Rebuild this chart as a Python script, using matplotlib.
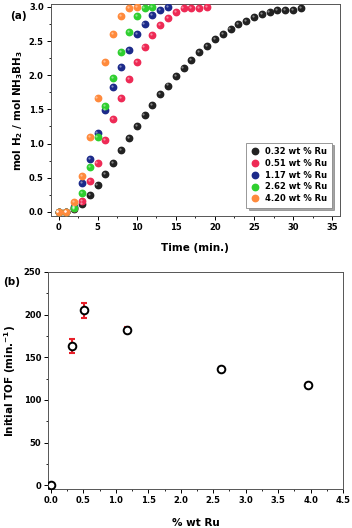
import numpy as np
import matplotlib
matplotlib.use('Agg')
import matplotlib.pyplot as plt
from matplotlib.ticker import MultipleLocator

plt.rcParams['font.family'] = ['DejaVu Sans']
plt.rcParams['font.weight'] = 'bold'
plt.rcParams['axes.labelweight'] = 'bold'

# Panel (a): H2 evolution vs time
time_032 = list(range(0, 32))
h2_032 = [0, 0, 0.04, 0.12, 0.24, 0.39, 0.56, 0.72, 0.91, 1.08, 1.25, 1.42, 1.57, 1.72, 1.85, 1.99,
          2.11, 2.23, 2.34, 2.43, 2.53, 2.61, 2.68, 2.75, 2.80, 2.85, 2.89, 2.93, 2.95, 2.96, 2.96, 2.98]
time_051 = list(range(0, 20))
h2_051 = [0, 0, 0.05, 0.16, 0.45, 0.72, 1.05, 1.36, 1.67, 1.94, 2.20, 2.41, 2.59, 2.74, 2.84,
          2.93, 2.98, 2.98, 2.99, 3.0]
time_117 = list(range(0, 15))
h2_117 = [0, 0, 0.07, 0.42, 0.77, 1.15, 1.49, 1.83, 2.12, 2.37, 2.60, 2.75, 2.88, 2.96, 3.0]
time_262 = list(range(0, 13))
h2_262 = [0, 0, 0.06, 0.28, 0.65, 1.10, 1.55, 1.96, 2.34, 2.63, 2.87, 2.98, 3.0]
time_420 = list(range(0, 11))
h2_420 = [0, 0, 0.15, 0.53, 1.10, 1.67, 2.20, 2.60, 2.87, 2.99, 3.0]

series = [
    (time_032, h2_032, '0.32 wt % Ru', '#222222'),
    (time_051, h2_051, '0.51 wt % Ru', '#ee2a55'),
    (time_117, h2_117, '1.17 wt % Ru', '#1c2a8a'),
    (time_262, h2_262, '2.62 wt % Ru', '#2fcf2f'),
    (time_420, h2_420, '4.20 wt % Ru', '#ff8a3c'),
]

# Panel (b): initial TOF vs Ru loading
ru_wt = [0.0, 0.32, 0.51, 1.17, 2.62, 3.96]
tof = [0, 163, 205, 182, 136, 118]
tof_err = [0, 8, 9, 4, 2, 2]

fig = plt.figure(figsize=(3.52, 5.28), dpi=100)
ax1 = fig.add_axes([0.144, 0.591, 0.822, 0.401])
ax2 = fig.add_axes([0.137, 0.073, 0.838, 0.412])

for t, h, lab, c in series:
    ax1.plot(t, h, 'o', ms=4.6, color=c, mec=c, label=lab, zorder=3)
    # small highlight for a shaded sphere look
    ax1.plot(np.array(t) - 0.15, np.array(h) + 0.015, 'o', ms=1.6, color='white', alpha=0.45,
             mec='none', zorder=4)

ax1.set_xlim(-1, 36)
ax1.set_ylim(-0.06, 3.04)
ax1.xaxis.set_major_locator(MultipleLocator(5))
ax1.xaxis.set_minor_locator(MultipleLocator(2.5))
ax1.yaxis.set_major_locator(MultipleLocator(0.5))
ax1.yaxis.set_minor_locator(MultipleLocator(0.25))
ax1.set_xlabel('Time (min.)', fontsize=7.5, labelpad=8)
ax1.set_ylabel(r'mol H$_\mathbf{2}$ / mol NH$_\mathbf{3}$BH$_\mathbf{3}$', fontsize=7.5, labelpad=3)
leg = ax1.legend(loc='lower right', fontsize=6, frameon=True, fancybox=False, shadow=True,
                 handletextpad=0.6, borderpad=0.5, labelspacing=0.35, handlelength=1.2,
                 bbox_to_anchor=(0.985, 0.02))
leg.get_frame().set_edgecolor('#888888')
leg.get_frame().set_linewidth(0.6)
fig.text(0.052, 0.97, '(a)', fontsize=7.5, fontweight='bold', ha='center', va='center')

ax2.errorbar(ru_wt, tof, yerr=tof_err, fmt='none', ecolor='#e8202a', elinewidth=1.5,
             capsize=2, capthick=1.5, zorder=2)
ax2.plot(ru_wt, tof, 'o', ms=5.5, mfc='white', mec='black', mew=1.4, zorder=3)
ax2.set_xlim(-0.04, 4.5)
ax2.set_ylim(-5, 250)
ax2.xaxis.set_major_locator(MultipleLocator(0.5))
ax2.xaxis.set_minor_locator(MultipleLocator(0.25))
ax2.yaxis.set_major_locator(MultipleLocator(50))
ax2.yaxis.set_minor_locator(MultipleLocator(25))
ax2.set_xlabel('% wt Ru', fontsize=7.5, labelpad=9)
ax2.set_ylabel(r'Initial TOF (min.$^{\mathbf{-1}}$)', fontsize=7.5, labelpad=4)
fig.text(0.034, 0.465, '(b)', fontsize=7.5, fontweight='bold', ha='center', va='center')

for ax in (ax1, ax2):
    ax.tick_params(which='major', direction='out', length=3, width=0.7, labelsize=6, pad=2)
    ax.tick_params(which='minor', direction='out', length=1.5, width=0.6)
    for s in ax.spines.values():
        s.set_linewidth(0.7)
        s.set_color('#555555')

fig.savefig('out.png', dpi=100)
